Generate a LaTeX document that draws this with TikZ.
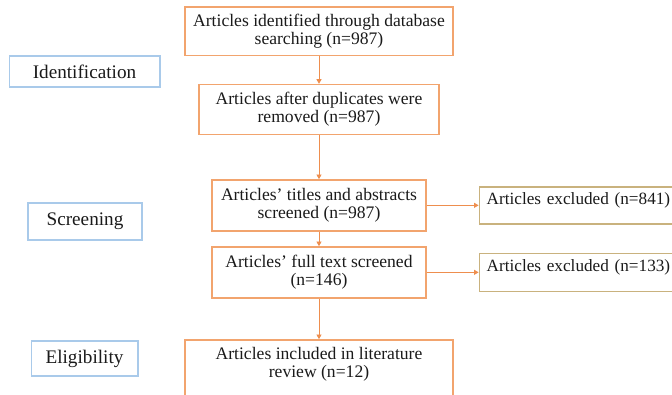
\documentclass[tikz,border=0pt]{standalone}
\usepackage{fontspec}
\setmainfont{Liberation Serif}
\usepackage{xcolor}
\usepackage{tikz}
\usetikzlibrary{arrows.meta, positioning}
\definecolor{boxorange}{HTML}{F2A46E}
\definecolor{arroworange}{HTML}{EE8E4E}
\definecolor{stageblue}{HTML}{A9CAEA}
\definecolor{exolive}{HTML}{C9B27E}
\definecolor{textgray}{HTML}{1A1A1A}

\begin{document}
\begin{tikzpicture}[
    x=0.75pt, y=-0.75pt,
    flowbox/.style={draw=boxorange, line width=1pt, align=center, text=textgray, inner ysep=5.3pt, font=\fontsize{13.2}{13.5}\selectfont},
    exbox/.style={draw=exolive, line width=1pt, align=left, text width=150pt, inner xsep=5.5pt, text depth=9.5pt, text=textgray, font=\fontsize{12.9}{13.5}\selectfont},
    stage/.style={draw=stageblue, line width=1pt, text=textgray, font=\fontsize{14.4}{16}\selectfont},
    arrow/.style={-{Triangle[length=3.5pt, width=3.8pt]}, line width=0.7pt, draw=arroworange},
]
\clip (0,0) rectangle (672,394);

% Main flow
\node[flowbox, minimum width=201pt, minimum height=36pt] (idn) at (319,31) {Articles identified through database\\searching (n=987)};
\node[flowbox, minimum width=180pt, minimum height=37.5pt, below=21pt of idn] (dup) {Articles after duplicates were\\removed (n=987)};
\node[flowbox, minimum width=160.5pt, minimum height=38.25pt, below=33pt of dup] (scr) {Articles' titles and abstracts\\screened (n=987)};
\node[flowbox, minimum width=160.5pt, minimum height=38.25pt, below=11pt of scr] (full) {Articles' full text screened\\(n=146)};
\node[flowbox, minimum width=201pt, text depth=50pt, below=30.5pt of full] (inc) {Articles included in literature\\review (n=12)};

% Excluded
\node[exbox, minimum height=27.75pt, right=39pt of scr] (ex1) {Articles excluded (n=841)};
\node[exbox, minimum height=28.5pt, right=39pt of full] (ex2) {Articles excluded (n=133)};

% Stages
\node[stage, minimum width=113pt, minimum height=23.25pt] (idf) at (84.5,71.5) {Identification};
\node[stage, minimum width=85.5pt, minimum height=27.75pt] (scg) at (85,221.5) {Screening};
\node[stage, minimum width=80pt, minimum height=26.25pt] (elg) at (84.5,358.5) {Eligibility};

% Arrows
\draw[arrow] (idn) -- (dup);
\draw[arrow] (dup) -- (scr);
\draw[arrow] (scr) -- (full);
\draw[arrow] (full) -- (inc);
\draw[arrow] (scr) -- (ex1);
\draw[arrow] (full) -- (ex2);

\end{tikzpicture}
\end{document}
